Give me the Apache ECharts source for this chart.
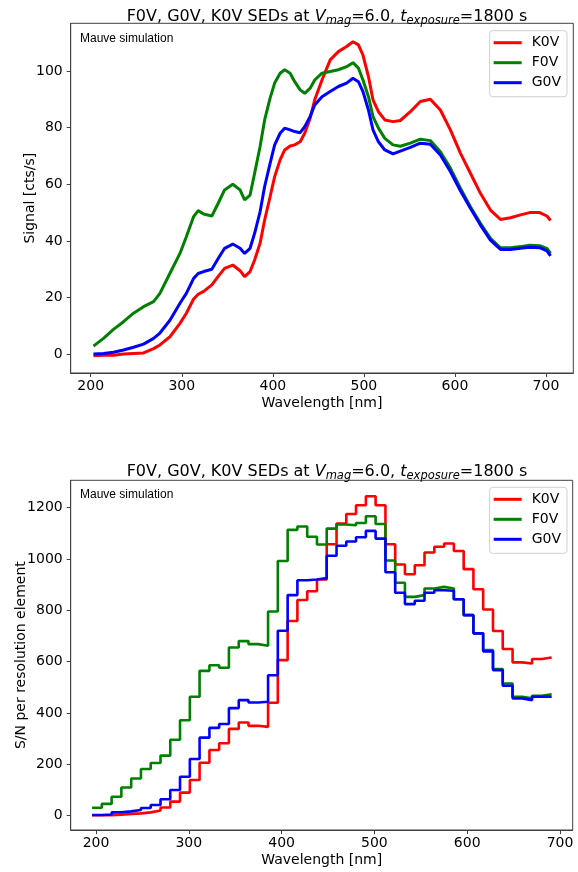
<!DOCTYPE html>
<html>
<head>
<meta charset="utf-8">
<script src="https://cdn.jsdelivr.net/npm/echarts@6/dist/echarts.min.js"></script>
<style>html,body{margin:0;padding:0;background:#fff}#c{width:578px;height:872px}</style>
</head>
<body>
<div id="c"></div>
<script>
// ---- Top chart: SED signal [cts/s] vs wavelength [nm]
const sedWavelength = [203,214,225,236,247,258,269,276,287,298,305,313,318,324,333,340,347,356,364,369,375,380,386,391,397,402,408,413,419,424,430,435,441,446,454,463,472,481,488,494,499,505,510,516,523,532,540,551,562,573,584,595,606,617,628,639,650,661,672,682,693,701,705];
const sedK0V = [-0.5,-0.3,-0.3,0.1,0.3,0.5,2,3.3,6.2,10.9,14.5,19.5,21.2,22.2,24.5,27.5,30.3,31.5,29.5,27.4,29.2,33.3,39.2,47.4,55.6,62.7,68.6,72.1,73.5,73.9,75,78,83.3,89.8,96.8,103.9,106.8,108.6,110.3,109.2,105.6,98,89.8,85.6,82.7,82.1,82.5,85.6,89.2,90,86.2,79.2,71,63.9,56.8,50.9,47.6,48.2,49.2,50,50,48.8,47.2];
const sedF0V = [2.9,5.6,8.8,11.5,14.5,16.8,18.6,21.5,28.6,35.6,41.5,48.6,50.7,49.5,48.8,53.3,58,60,58,54.5,56.2,63.9,73.3,82.7,90.4,95.7,99.2,100.4,99.2,96.2,93.3,92.1,93.9,96.8,99.2,99.8,100.4,101.5,102.9,101,96.8,90.9,83.9,79.8,76.2,73.9,73.4,74.5,75.9,75.4,71.5,65.7,58.6,52.1,46.2,40.9,37.6,37.6,38,38.5,38.3,37.4,35.6];
const sedG0V = [0.1,0.3,0.7,1.5,2.5,3.6,5.6,7.5,12,18,21.5,26.8,28.5,29.2,30,33.8,37.4,38.9,37.4,35.6,37.4,42.7,50.3,59.2,67.4,73.9,78,79.8,79.2,78.6,78.2,80.3,83.9,88,90.9,92.7,94.5,95.7,97.4,96.2,92.7,86.2,79.2,75,72.1,70.7,71.7,73,74.5,74.1,70.3,64.5,57.7,51.5,45.6,40.3,37,37,37.4,37.8,37.6,36.5,34.7];

// ---- Bottom chart: S/N per resolution element (binned, step)
const binEdges = [195.7,206.2,216.8,227.3,237.9,248.4,258.9,269.5,280.0,290.5,301.1,311.6,322.2,332.7,343.2,353.8,364.3,374.9,385.4,395.9,406.5,417.0,427.6,438.1,448.6,459.2,469.7,480.2,490.8,501.3,511.9,522.4,532.9,543.5,554.0,564.6,575.1,585.6,596.2,606.7,617.2,627.8,638.3,648.9,659.4,669.9,680.5,691.0];
const snK0V = [2,2,4,7,9,13,20,32,55,90,139,206,256,282,338,363,350,346,440,606,758,840,874,920,1057,1138,1175,1209,1244,1209,1057,978,940,975,1025,1047,1060,1031,960,882,803,719,649,597,593,610,616];
const snF0V = [31,46,74,110,145,182,205,234,296,372,463,564,586,576,655,680,668,662,795,992,1113,1126,1086,1056,1118,1134,1131,1140,1166,1136,994,907,852,859,885,891,885,843,781,710,645,571,515,463,457,467,473];
const snG0V = [3,5,13,17,22,30,42,64,100,152,221,304,342,357,419,450,441,444,547,720,859,917,920,925,1012,1051,1068,1084,1109,1079,948,868,824,837,868,878,876,843,781,710,640,567,506,457,450,463,463];

const xTicksTop = [200,300,400,500,600,700];
const yTicksTop = [0,20,40,60,80,100];
const xTicksBot = [200,300,400,500,600,700];
const yTicksBot = [0,200,400,600,800,1000,1200];

const names = ['K0V','F0V','G0V'];
const colors = {K0V:'#ff0000', F0V:'#008000', G0V:'#0000ff'};
const FONT = 'DejaVu Sans';

function pairs(xs, ys){ return xs.map((x,i)=>[x, ys[i]]); }
function stepPairs(edges, vals){
  const d = vals.map((v,i)=>[edges[i], v]);
  d.push([edges[vals.length], vals[vals.length-1]]);
  return d;
}

function makeX(idx, min, max, ticks){
  return {
    type:'value', gridIndex: idx, min, max,
    name:'Wavelength [nm]', nameLocation:'middle', nameGap: 23, nameMoveOverlap:false,
    nameTextStyle:{fontFamily:FONT, fontSize:14, color:'#000'},
    axisLine:{show:true, onZero:false, lineStyle:{color:'#404040', width:1}},
    axisTick:{show:true, inside:false, length:4, customValues:ticks, lineStyle:{color:'#404040'}},
    axisLabel:{customValues:ticks, fontFamily:FONT, fontSize:14, color:'#000', margin:6, formatter:v=>String(v)},
    splitLine:{show:false}
  };
}
function makeY(idx, min, max, ticks, name, gap){
  return {
    type:'value', gridIndex: idx, min, max,
    name, nameLocation:'middle', nameGap: gap, nameMoveOverlap:false,
    nameTextStyle:{fontFamily:FONT, fontSize:14, color:'#000'},
    axisLine:{show:true, onZero:false, lineStyle:{color:'#404040', width:1}},
    axisTick:{show:true, inside:false, length:4, customValues:ticks, lineStyle:{color:'#404040'}},
    axisLabel:{customValues:ticks, fontFamily:FONT, fontSize:14, color:'#000', margin:8, formatter:v=>String(v)},
    splitLine:{show:false}
  };
}
const titleRich = {
  n:{fontFamily:FONT, fontSize:16, fontWeight:'normal', color:'#000', lineHeight:21, verticalAlign:'middle'},
  i:{fontFamily:FONT, fontSize:16, fontWeight:'normal', fontStyle:'italic', color:'#000', lineHeight:21, verticalAlign:'middle'},
  s:{fontFamily:FONT, fontSize:11.5, fontWeight:'normal', fontStyle:'italic', color:'#000', lineHeight:12, verticalAlign:'bottom'}
};
const titleText = '{n|F0V, G0V, K0V SEDs at }{i|V}{s|mag}{n|=6.0, }{i|t}{s|exposure}{n|=1800 s}';

function legend(top){
  return {
    data: names, orient:'vertical', right: 11, top: top,
    icon:'rect', itemWidth:28, itemHeight:3, itemGap:0,
    padding:[2,6,4,4],
    backgroundColor:'rgba(255,255,255,0.8)', borderColor:'#d0d0d0', borderWidth:1, borderRadius:3,
    textStyle:{fontFamily:FONT, fontSize:14, color:'#000', lineHeight:20, padding:[0,0,0,5]}
  };
}

const series = [];
names.forEach(n=>{
  const v = n==='K0V'?sedK0V:(n==='F0V'?sedF0V:sedG0V);
  series.push({name:n, type:'line', xAxisIndex:0, yAxisIndex:0, data:pairs(sedWavelength, v),
    showSymbol:false, symbol:'none', lineStyle:{width:3, color:colors[n]}, itemStyle:{color:colors[n]}, animation:false});
});
names.forEach(n=>{
  const v = n==='K0V'?snK0V:(n==='F0V'?snF0V:snG0V);
  series.push({name:n, type:'line', step:'end', xAxisIndex:1, yAxisIndex:1, data:stepPairs(binEdges, v),
    showSymbol:false, symbol:'none', lineStyle:{width:2.6, color:colors[n]}, itemStyle:{color:colors[n]}, animation:false});
});

const chart = echarts.init(document.getElementById('c'), null, {renderer:'canvas'});
chart.setOption({
  animation:false,
  backgroundColor:'#fff',
  title:[
    {text:titleText, left:322, top:1, textAlign:'center', textStyle:{fontWeight:'normal', rich:titleRich}},
    {text:titleText, left:322, top:456, textAlign:'center', textStyle:{fontWeight:'normal', rich:titleRich}}
  ],
  legend:[legend(30.7), legend(487.3)],
  grid:[
    {left:70.7, right:4.7, top:23.3, height:349.7, show:true, borderColor:'#404040', borderWidth:1, backgroundColor:'transparent', containLabel:false, outerBoundsMode:'none'},
    {left:70.7, right:5.3, top:480.3, height:349.7, show:true, borderColor:'#404040', borderWidth:1, backgroundColor:'transparent', containLabel:false, outerBoundsMode:'none'}
  ],
  xAxis:[makeX(0,178,730,xTicksTop), makeX(1,172.7,713.7,xTicksBot)],
  yAxis:[makeY(0,-6.6,116.8,yTicksTop,'Signal [cts/s]',33), makeY(1,-55.6,1306,yTicksBot,'S/N per resolution element',42)],
  graphic:[
    {type:'text', left:80, top:33, style:{text:'Mauve simulation', font:'12px "Liberation Sans", Arial, sans-serif', fill:'#000'}},
    {type:'text', left:80, top:489, style:{text:'Mauve simulation', font:'12px "Liberation Sans", Arial, sans-serif', fill:'#000'}}
  ],
  series
});
</script>
</body>
</html>
